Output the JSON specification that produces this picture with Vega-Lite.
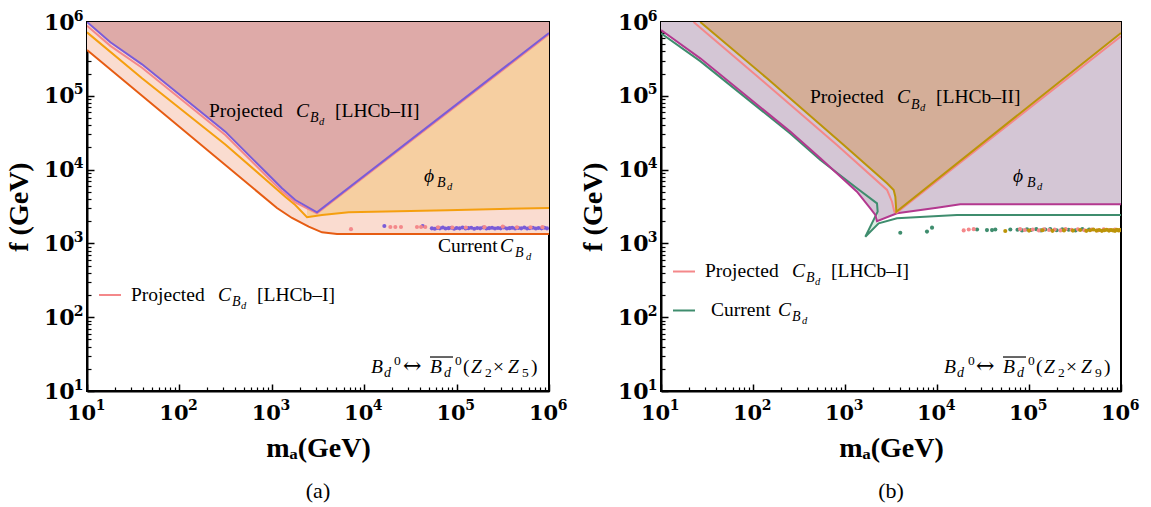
{
"$schema": "https://vega.github.io/schema/vega-lite/v6.json",
"background": "white",
"padding": {"left": 4, "top": 8, "right": 0, "bottom": 0},
"bounds": "flush",
"spacing": 112,
"config": {"view": {"stroke": "black", "strokeWidth": 2}, "axis": {"labelFlush": false, "labelOverlap": false, "grid": false}},
"datasets": {
"a_current": [{"m":10,"f":417000},{"m":1138,"f":3018},{"m":1654,"f":2209},{"m":2508,"f":1684},{"m":3494,"f":1414},{"m":5077,"f":1341},{"m":1000000,"f":1341}],
"a_orange": [{"m":10,"f":724000},{"m":39.4,"f":172600},{"m":314,"f":21900},{"m":1400,"f":4295},{"m":1795,"f":3311},{"m":2404,"f":2259},{"m":3491,"f":2427},{"m":6792,"f":2636},{"m":79400,"f":2818},{"m":1000000,"f":3020}],
"a_phi": [{"m":2404,"f":2259},{"m":3491,"f":2427},{"m":6792,"f":2636},{"m":79400,"f":2818},{"m":1000000,"f":3020}],
"a_pink": [{"m":10,"f":890000},{"m":17.9,"f":475000},{"m":39.4,"f":240000},{"m":314,"f":29500},{"m":925,"f":7650},{"m":1288,"f":5100},{"m":1795,"f":3600},{"m":3083,"f":2560},{"m":1000000,"f":680000}],
"a_purple": [{"m":10,"f":1000000},{"m":17.9,"f":531000},{"m":39.4,"f":267000},{"m":314,"f":32700},{"m":925,"f":8450},{"m":1288,"f":5585},{"m":1795,"f":3873},{"m":3083,"f":2636},{"m":1000000,"f":710000}],
"a_dots_purple": [{"m":16520,"f":1722},{"m":42950,"f":1722},{"m":54000,"f":1600},{"m":58000,"f":1580},{"m":62000,"f":1620},{"m":66000,"f":1600},{"m":71000,"f":1640},{"m":76000,"f":1590},{"m":82000,"f":1610},{"m":88000,"f":1630},{"m":94000,"f":1580},{"m":100000,"f":1620},{"m":108000,"f":1600},{"m":116000,"f":1640},{"m":125000,"f":1590},{"m":134000,"f":1610},{"m":144000,"f":1630},{"m":155000,"f":1580},{"m":167000,"f":1620},{"m":180000,"f":1600},{"m":194000,"f":1640},{"m":210000,"f":1590},{"m":225000,"f":1610},{"m":242000,"f":1630},{"m":260000,"f":1590},{"m":280000,"f":1620},{"m":300000,"f":1600},{"m":325000,"f":1640},{"m":350000,"f":1590},{"m":375000,"f":1610},{"m":400000,"f":1630},{"m":430000,"f":1590},{"m":465000,"f":1620},{"m":500000,"f":1600},{"m":540000,"f":1640},{"m":580000,"f":1590},{"m":620000,"f":1610},{"m":670000,"f":1630},{"m":720000,"f":1590},{"m":770000,"f":1620},{"m":830000,"f":1600},{"m":890000,"f":1630},{"m":950000,"f":1600}],
"a_dots_pink": [{"m":7194,"f":1560},{"m":19190,"f":1667},{"m":21730,"f":1667},{"m":25000,"f":1667},{"m":37240,"f":1667},{"m":41210,"f":1667},{"m":45810,"f":1667},{"m":63000,"f":1650},{"m":90000,"f":1640},{"m":125900,"f":1640},{"m":200000,"f":1660},{"m":316000,"f":1690},{"m":450000,"f":1650},{"m":631000,"f":1650},{"m":850000,"f":1660}],
"a_plain": [{"m":209.1,"f":51600,"t":"Projected"},{"m":4831,"f":51600,"t":"[LHCb–II]"},{"m":62900,"f":764.6,"t":"Current"},{"m":29.94,"f":165.8,"t":"Projected"},{"m":691.6,"f":165.8,"t":"[LHCb–I]"},{"m":117300,"f":17.81,"t":"("},{"m":247700,"f":17.81,"t":"×"},{"m":638600,"f":17.81,"t":")"}],
"a_arrow": [{"m":26300,"f":17.81,"t":"↔"}],
"a_ital": [{"m":1827,"f":51600,"t":"C"},{"m":294900,"f":764.6,"t":"C"},{"m":261.7,"f":165.8,"t":"C"},{"m":44390,"f":6792,"t":"ϕ"},{"m":11850,"f":17.81,"t":"B"},{"m":51530,"f":17.81,"t":"B"},{"m":143200,"f":17.81,"t":"Z"},{"m":360000,"f":17.81,"t":"Z"}],
"a_sub": [{"m":2591,"f":44160,"t":"B"},{"m":428500,"f":654.1,"t":"B"},{"m":371,"f":141.8,"t":"B"},{"m":61360,"f":5810,"t":"B"},{"m":16380,"f":15.72,"t":"d"},{"m":73050,"f":15.72,"t":"d"}],
"a_subsub": [{"m":3243,"f":40210,"t":"d"},{"m":563800,"f":595.7,"t":"d"},{"m":464.2,"f":129.1,"t":"d"},{"m":78730,"f":5292,"t":"d"}],
"a_small": [{"m":21010,"f":22.86,"t":"0"},{"m":96090,"f":22.86,"t":"0"},{"m":202900,"f":15.72,"t":"2"},{"m":510200,"f":15.72,"t":"5"}],
"a_legend": [{"m":13.49,"m2":23.33,"f":200}],
"a_over": [{"m":51530,"m2":91410,"f":28.88}],
"b_mint": [{"i":0,"m":10,"f":703000},{"i":1,"m":26.7,"f":295000},{"i":2,"m":254,"f":30900},{"i":3,"m":540,"f":13490},{"i":4,"m":1349,"f":5585},{"i":5,"m":2228,"f":3491},{"i":6,"m":2265,"f":2692},{"i":7,"m":2266,"f":1811},{"i":8,"m":2323,"f":1871},{"i":9,"m":3673,"f":2188},{"i":10,"m":16480,"f":2427},{"i":11,"m":1000000,"f":2427}],
"b_sliver": [{"m":1663,"lo":1233,"hi":1233},{"m":2265,"lo":1811,"hi":2692}],
"b_magenta": [{"m":10,"f":776000},{"m":26.7,"f":322000},{"m":254,"f":32700},{"m":540,"f":14220},{"m":1349,"f":5012},{"m":1884,"f":2985},{"m":2138,"f":2427},{"m":2228,"f":1995},{"m":3673,"f":2559},{"m":10000,"f":3048},{"m":17900,"f":3388},{"m":1000000,"f":3388}],
"b_gold": [{"m":26.7,"f":1000000},{"m":141.9,"f":172600},{"m":968,"f":21530},{"m":2864,"f":6516},{"m":3381,"f":5297},{"m":3524,"f":4295},{"m":3614,"f":2692},{"m":1000000,"f":710000}],
"b_pink": [{"m":22.6,"f":1000000},{"m":130.6,"f":155200},{"m":818,"f":21530},{"m":2864,"f":5297},{"m":3243,"f":3673},{"m":3436,"f":2692},{"m":3650,"f":2620},{"m":1000000,"f":640000}],
"b_green": [{"i":0,"m":10,"f":703000},{"i":1,"m":26.7,"f":295000},{"i":2,"m":254,"f":30900},{"i":3,"m":540,"f":13490},{"i":4,"m":1349,"f":5585},{"i":5,"m":2228,"f":3491},{"i":6,"m":2265,"f":2692},{"i":7,"m":1663,"f":1233},{"i":8,"m":2323,"f":1871},{"i":9,"m":3673,"f":2188},{"i":10,"m":16480,"f":2427},{"i":11,"m":1000000,"f":2427}],
"b_dots_green": [{"m":3990,"f":1396},{"m":7780,"f":1445},{"m":8830,"f":1633},{"m":27230,"f":1540},{"m":34910,"f":1514},{"m":39630,"f":1514},{"m":43050,"f":1540},{"m":62660,"f":1540},{"m":75000,"f":1530},{"m":84000,"f":1500},{"m":95000,"f":1550},{"m":105000,"f":1520},{"m":120000,"f":1560},{"m":135000,"f":1500},{"m":150000,"f":1540},{"m":170000,"f":1570},{"m":200000,"f":1510},{"m":230000,"f":1550},{"m":270000,"f":1530},{"m":320000,"f":1500},{"m":380000,"f":1560},{"m":450000,"f":1540}],
"b_dots_pink": [{"m":19500,"f":1500},{"m":22130,"f":1540},{"m":25060,"f":1560},{"m":80000,"f":1560},{"m":90000,"f":1520},{"m":110000,"f":1540},{"m":128000,"f":1500},{"m":145000,"f":1550},{"m":165000,"f":1520},{"m":190000,"f":1540},{"m":220000,"f":1500},{"m":250000,"f":1560},{"m":290000,"f":1530},{"m":340000,"f":1550},{"m":400000,"f":1510},{"m":480000,"f":1540},{"m":560000,"f":1500},{"m":650000,"f":1550},{"m":750000,"f":1520},{"m":860000,"f":1540},{"m":960000,"f":1510}],
"b_dots_gold": [{"m":55210,"f":1470},{"m":100000,"f":1490},{"m":140000,"f":1510},{"m":180000,"f":1480},{"m":240000,"f":1500},{"m":300000,"f":1490},{"m":360000,"f":1520},{"m":420000,"f":1480},{"m":460000,"f":1510},{"m":500000,"f":1540},{"m":540000,"f":1490},{"m":580000,"f":1520},{"m":620000,"f":1480},{"m":660000,"f":1510},{"m":700000,"f":1530},{"m":740000,"f":1490},{"m":780000,"f":1520},{"m":820000,"f":1500},{"m":860000,"f":1480},{"m":900000,"f":1530},{"m":940000,"f":1500},{"m":980000,"f":1520}],
"b_plain": [{"m":416.5,"f":78660,"t":"Projected"},{"m":9752,"f":78660,"t":"[LHCb–II]"},{"m":30.08,"f":350.5,"t":"Projected"},{"m":704.4,"f":350.5,"t":"[LHCb–I]"},{"m":34.95,"f":103.8,"t":"Current"},{"m":119100,"f":17.81,"t":"("},{"m":252500,"f":17.81,"t":"×"},{"m":653400,"f":17.81,"t":")"}],
"b_arrow": [{"m":26540,"f":17.81,"t":"↔"}],
"b_ital": [{"m":3674,"f":78660,"t":"C"},{"m":265.4,"f":350.5,"t":"C"},{"m":186.9,"f":103.8,"t":"C"},{"m":67000,"f":6792,"t":"ϕ"},{"m":11910,"f":17.81,"t":"B"},{"m":52160,"f":17.81,"t":"B"},{"m":145500,"f":17.81,"t":"Z"},{"m":367400,"f":17.81,"t":"Z"}],
"b_sub": [{"m":5216,"f":67280,"t":"B"},{"m":376.9,"f":299.9,"t":"B"},{"m":265.4,"f":88.82,"t":"B"},{"m":95120,"f":5810,"t":"B"},{"m":16500,"f":15.72,"t":"d"},{"m":74060,"f":15.72,"t":"d"}],
"b_subsub": [{"m":6534,"f":61280,"t":"d"},{"m":471.9,"f":273.1,"t":"d"},{"m":340.8,"f":80.89,"t":"d"},{"m":122200,"f":5292,"t":"d"}],
"b_small": [{"m":21730,"f":22.86,"t":"0"},{"m":97520,"f":22.86,"t":"0"},{"m":206700,"f":15.72,"t":"2"},{"m":521600,"f":15.72,"t":"9"}],
"b_leg_pink": [{"m":13.5,"m2":23.42,"f":416}],
"b_leg_green": [{"m":13.5,"m2":23.42,"f":123.3}],
"b_over": [{"m":52160,"m2":92770,"f":28.88}]
},
"hconcat": [
{
"width": 462, "height": 369,
"title": {"text": "(a)", "orient": "bottom", "anchor": "middle", "frame": "group", "font": "Liberation Serif", "fontSize": 22, "fontWeight": "normal", "color": "black", "offset": 19},
"resolve": {"axis": {"x": "independent", "y": "independent"}},
"layer": [
{"data": {"name": "a_current"}, "mark": {"type": "area", "color": "#FADCD0", "clip": true},
 "encoding": {
  "x": {"field": "m", "type": "quantitative", "scale": {"type": "log", "domain": [10, 1000000], "nice": false},
   "axis": {"orient": "bottom", "values": [10,100,1000,10000,100000,1000000], "labelExpr": "'10'", "labelFont": "DejaVu Serif", "labelFontWeight": "bold", "labelFontSize": 21, "labelColor": "black", "labelOffset": -6, "labelPadding": 18, "labelFlush": false, "labelOverlap": false, "labelBound": false, "tickSize": -7, "tickWidth": 1.5, "tickColor": "black", "domain": true, "domainColor": "black", "domainWidth": 2, "grid": false, "title": "mₐ(GeV)", "titleFont": "Liberation Serif", "titleFontSize": 28, "titleFontWeight": "bold", "titleColor": "black", "titlePadding": 11}},
  "y": {"field": "f", "type": "quantitative", "scale": {"type": "log", "domain": [10, 1000000], "nice": false},
   "axis": {"orient": "left", "values": [10,100,1000,10000,100000,1000000], "labelExpr": "'10'", "labelFont": "DejaVu Serif", "labelFontWeight": "bold", "labelFontSize": 22, "labelColor": "black", "labelPadding": 20, "labelFlush": false, "labelOverlap": false, "labelBound": false, "tickSize": -7, "tickWidth": 1.5, "tickColor": "black", "domain": true, "domainColor": "black", "domainWidth": 2, "grid": false, "title": "f (GeV)", "titleFont": "Liberation Serif", "titleFontSize": 28, "titleFontWeight": "bold", "titleColor": "black", "titlePadding": 10}},
  "y2": {"datum": 1000000}}},
{"data": {"name": "a_phi"}, "mark": {"type": "area", "color": "#F6CFA1", "clip": true},
 "encoding": {
  "x": {"field": "m", "type": "quantitative", "scale": {"type": "log", "domain": [10, 1000000], "nice": false},
   "axis": {"orient": "bottom", "values": [10,100,1000,10000,100000,1000000], "labelExpr": "''+round(log(datum.value)/LN10)", "labelFont": "DejaVu Serif", "labelFontWeight": "bold", "labelFontSize": 14, "labelColor": "black", "labelOffset": 13, "labelPadding": 7, "labelFlush": false, "labelOverlap": false, "labelBound": false, "ticks": false, "domain": false, "grid": false, "title": null}},
  "y": {"field": "f", "type": "quantitative", "scale": {"type": "log", "domain": [10, 1000000], "nice": false},
   "axis": {"orient": "left", "values": [10,100,1000,10000,100000,1000000], "labelExpr": "''+round(log(datum.value)/LN10)", "labelFont": "DejaVu Serif", "labelFontWeight": "bold", "labelFontSize": 14, "labelColor": "black", "labelPadding": 4, "labelOffset": -6, "labelFlush": false, "labelOverlap": false, "labelBound": false, "ticks": false, "domain": false, "grid": false, "title": null}},
  "y2": {"datum": 1000000}}},
{"data": {"name": "a_purple"}, "mark": {"type": "area", "color": "#DEAAA8", "clip": true},
 "encoding": {
  "x": {"field": "m", "type": "quantitative", "scale": {"type": "log", "domain": [10, 1000000], "nice": false},
   "axis": {"orient": "bottom", "values": [20,30,40,50,60,70,80,90,200,300,400,500,600,700,800,900,2000,3000,4000,5000,6000,7000,8000,9000,20000,30000,40000,50000,60000,70000,80000,90000,200000,300000,400000,500000,600000,700000,800000,900000], "labels": false, "tickSize": -4, "tickWidth": 1.2, "tickColor": "black", "domain": false, "grid": false, "title": null}},
  "y": {"field": "f", "type": "quantitative", "scale": {"type": "log", "domain": [10, 1000000], "nice": false},
   "axis": {"orient": "left", "values": [20,30,40,50,60,70,80,90,200,300,400,500,600,700,800,900,2000,3000,4000,5000,6000,7000,8000,9000,20000,30000,40000,50000,60000,70000,80000,90000,200000,300000,400000,500000,600000,700000,800000,900000], "labels": false, "tickSize": -4, "tickWidth": 1.2, "tickColor": "black", "domain": false, "grid": false, "title": null}},
  "y2": {"datum": 1000000}}},
{"data": {"name": "a_current"}, "mark": {"type": "line", "color": "#E65C12", "strokeWidth": 2, "clip": true},
 "encoding": {"x": {"field": "m", "type": "quantitative", "scale": {"type": "log", "domain": [10, 1000000], "nice": false}, "axis": null}, "y": {"field": "f", "type": "quantitative", "scale": {"type": "log", "domain": [10, 1000000], "nice": false}, "axis": null}}},
{"data": {"name": "a_orange"}, "mark": {"type": "line", "color": "#F59F0F", "strokeWidth": 2, "clip": true},
 "encoding": {"x": {"field": "m", "type": "quantitative", "scale": {"type": "log", "domain": [10, 1000000], "nice": false}, "axis": null}, "y": {"field": "f", "type": "quantitative", "scale": {"type": "log", "domain": [10, 1000000], "nice": false}, "axis": null}}},
{"data": {"name": "a_pink"}, "mark": {"type": "line", "color": "#F4888A", "strokeWidth": 2, "clip": true},
 "encoding": {"x": {"field": "m", "type": "quantitative", "scale": {"type": "log", "domain": [10, 1000000], "nice": false}, "axis": null}, "y": {"field": "f", "type": "quantitative", "scale": {"type": "log", "domain": [10, 1000000], "nice": false}, "axis": null}}},
{"data": {"name": "a_purple"}, "mark": {"type": "line", "color": "#7A5CD8", "strokeWidth": 2, "clip": true},
 "encoding": {"x": {"field": "m", "type": "quantitative", "scale": {"type": "log", "domain": [10, 1000000], "nice": false}, "axis": null}, "y": {"field": "f", "type": "quantitative", "scale": {"type": "log", "domain": [10, 1000000], "nice": false}, "axis": null}}},
{"data": {"name": "a_dots_purple"}, "mark": {"type": "point", "filled": true, "size": 17, "opacity": 1, "color": "#7A5CD8", "clip": true},
 "encoding": {"x": {"field": "m", "type": "quantitative", "scale": {"type": "log", "domain": [10, 1000000], "nice": false}, "axis": null}, "y": {"field": "f", "type": "quantitative", "scale": {"type": "log", "domain": [10, 1000000], "nice": false}, "axis": null}}},
{"data": {"name": "a_dots_pink"}, "mark": {"type": "point", "filled": true, "size": 17, "opacity": 1, "color": "#F4888A", "clip": true},
 "encoding": {"x": {"field": "m", "type": "quantitative", "scale": {"type": "log", "domain": [10, 1000000], "nice": false}, "axis": null}, "y": {"field": "f", "type": "quantitative", "scale": {"type": "log", "domain": [10, 1000000], "nice": false}, "axis": null}}},
{"data": {"name": "a_plain"}, "mark": {"type": "text", "align": "left", "baseline": "alphabetic", "font": "Liberation Serif", "fontSize": 19.5, "color": "black"},
 "encoding": {"x": {"field": "m", "type": "quantitative", "scale": {"type": "log", "domain": [10, 1000000], "nice": false}, "axis": null}, "y": {"field": "f", "type": "quantitative", "scale": {"type": "log", "domain": [10, 1000000], "nice": false}, "axis": null}, "text": {"field": "t"}}},
{"data": {"name": "a_arrow"}, "mark": {"type": "text", "align": "left", "baseline": "alphabetic", "font": "DejaVu Serif", "fontSize": 22, "color": "black"},
 "encoding": {"x": {"field": "m", "type": "quantitative", "scale": {"type": "log", "domain": [10, 1000000], "nice": false}, "axis": null}, "y": {"field": "f", "type": "quantitative", "scale": {"type": "log", "domain": [10, 1000000], "nice": false}, "axis": null}, "text": {"field": "t"}}},
{"data": {"name": "a_ital"}, "mark": {"type": "text", "align": "left", "baseline": "alphabetic", "font": "Liberation Serif", "fontStyle": "italic", "fontSize": 19.5, "color": "black"},
 "encoding": {"x": {"field": "m", "type": "quantitative", "scale": {"type": "log", "domain": [10, 1000000], "nice": false}, "axis": null}, "y": {"field": "f", "type": "quantitative", "scale": {"type": "log", "domain": [10, 1000000], "nice": false}, "axis": null}, "text": {"field": "t"}}},
{"data": {"name": "a_sub"}, "mark": {"type": "text", "align": "left", "baseline": "alphabetic", "font": "Liberation Serif", "fontStyle": "italic", "fontSize": 14, "color": "black"},
 "encoding": {"x": {"field": "m", "type": "quantitative", "scale": {"type": "log", "domain": [10, 1000000], "nice": false}, "axis": null}, "y": {"field": "f", "type": "quantitative", "scale": {"type": "log", "domain": [10, 1000000], "nice": false}, "axis": null}, "text": {"field": "t"}}},
{"data": {"name": "a_subsub"}, "mark": {"type": "text", "align": "left", "baseline": "alphabetic", "font": "Liberation Serif", "fontStyle": "italic", "fontSize": 10.5, "color": "black"},
 "encoding": {"x": {"field": "m", "type": "quantitative", "scale": {"type": "log", "domain": [10, 1000000], "nice": false}, "axis": null}, "y": {"field": "f", "type": "quantitative", "scale": {"type": "log", "domain": [10, 1000000], "nice": false}, "axis": null}, "text": {"field": "t"}}},
{"data": {"name": "a_small"}, "mark": {"type": "text", "align": "left", "baseline": "alphabetic", "font": "Liberation Serif", "fontSize": 13.5, "color": "black"},
 "encoding": {"x": {"field": "m", "type": "quantitative", "scale": {"type": "log", "domain": [10, 1000000], "nice": false}, "axis": null}, "y": {"field": "f", "type": "quantitative", "scale": {"type": "log", "domain": [10, 1000000], "nice": false}, "axis": null}, "text": {"field": "t"}}},
{"data": {"name": "a_legend"}, "mark": {"type": "rule", "color": "#F4888A", "strokeWidth": 2},
 "encoding": {"x": {"field": "m", "type": "quantitative", "scale": {"type": "log", "domain": [10, 1000000], "nice": false}, "axis": null}, "x2": {"field": "m2"}, "y": {"field": "f", "type": "quantitative", "scale": {"type": "log", "domain": [10, 1000000], "nice": false}, "axis": null}}},
{"data": {"name": "a_over"}, "mark": {"type": "rule", "color": "black", "strokeWidth": 1.2},
 "encoding": {"x": {"field": "m", "type": "quantitative", "scale": {"type": "log", "domain": [10, 1000000], "nice": false}, "axis": null}, "x2": {"field": "m2"}, "y": {"field": "f", "type": "quantitative", "scale": {"type": "log", "domain": [10, 1000000], "nice": false}, "axis": null}}}
]
},
{
"width": 460, "height": 369,
"title": {"text": "(b)", "orient": "bottom", "anchor": "middle", "frame": "group", "font": "Liberation Serif", "fontSize": 22, "fontWeight": "normal", "color": "black", "offset": 19},
"resolve": {"axis": {"x": "independent", "y": "independent"}},
"layer": [
{"data": {"name": "b_mint"}, "mark": {"type": "area", "color": "#DCECE4", "clip": true},
 "encoding": {
  "x": {"field": "m", "type": "quantitative", "scale": {"type": "log", "domain": [10, 1000000], "nice": false},
   "axis": {"orient": "bottom", "values": [10,100,1000,10000,100000,1000000], "labelExpr": "'10'", "labelFont": "DejaVu Serif", "labelFontWeight": "bold", "labelFontSize": 21, "labelColor": "black", "labelOffset": -6, "labelPadding": 18, "labelFlush": false, "labelOverlap": false, "labelBound": false, "tickSize": -7, "tickWidth": 1.5, "tickColor": "black", "domain": true, "domainColor": "black", "domainWidth": 2, "grid": false, "title": "mₐ(GeV)", "titleFont": "Liberation Serif", "titleFontSize": 28, "titleFontWeight": "bold", "titleColor": "black", "titlePadding": 11}},
  "y": {"field": "f", "type": "quantitative", "scale": {"type": "log", "domain": [10, 1000000], "nice": false},
   "axis": {"orient": "left", "values": [10,100,1000,10000,100000,1000000], "labelExpr": "'10'", "labelFont": "DejaVu Serif", "labelFontWeight": "bold", "labelFontSize": 22, "labelColor": "black", "labelPadding": 20, "labelFlush": false, "labelOverlap": false, "labelBound": false, "tickSize": -7, "tickWidth": 1.5, "tickColor": "black", "domain": true, "domainColor": "black", "domainWidth": 2, "grid": false, "title": "f (GeV)", "titleFont": "Liberation Serif", "titleFontSize": 28, "titleFontWeight": "bold", "titleColor": "black", "titlePadding": 10}},
  "y2": {"datum": 1000000},
  "order": {"field": "i", "type": "quantitative"}}},
{"data": {"name": "b_magenta"}, "mark": {"type": "area", "color": "#D4C6D5", "clip": true},
 "encoding": {
  "x": {"field": "m", "type": "quantitative", "scale": {"type": "log", "domain": [10, 1000000], "nice": false},
   "axis": {"orient": "bottom", "values": [10,100,1000,10000,100000,1000000], "labelExpr": "''+round(log(datum.value)/LN10)", "labelFont": "DejaVu Serif", "labelFontWeight": "bold", "labelFontSize": 14, "labelColor": "black", "labelOffset": 13, "labelPadding": 7, "labelFlush": false, "labelOverlap": false, "labelBound": false, "ticks": false, "domain": false, "grid": false, "title": null}},
  "y": {"field": "f", "type": "quantitative", "scale": {"type": "log", "domain": [10, 1000000], "nice": false},
   "axis": {"orient": "left", "values": [10,100,1000,10000,100000,1000000], "labelExpr": "''+round(log(datum.value)/LN10)", "labelFont": "DejaVu Serif", "labelFontWeight": "bold", "labelFontSize": 14, "labelColor": "black", "labelPadding": 4, "labelOffset": -6, "labelFlush": false, "labelOverlap": false, "labelBound": false, "ticks": false, "domain": false, "grid": false, "title": null}},
  "y2": {"datum": 1000000}}},
{"data": {"name": "b_gold"}, "mark": {"type": "area", "color": "#D4AE98", "clip": true},
 "encoding": {
  "x": {"field": "m", "type": "quantitative", "scale": {"type": "log", "domain": [10, 1000000], "nice": false},
   "axis": {"orient": "bottom", "values": [20,30,40,50,60,70,80,90,200,300,400,500,600,700,800,900,2000,3000,4000,5000,6000,7000,8000,9000,20000,30000,40000,50000,60000,70000,80000,90000,200000,300000,400000,500000,600000,700000,800000,900000], "labels": false, "tickSize": -4, "tickWidth": 1.2, "tickColor": "black", "domain": false, "grid": false, "title": null}},
  "y": {"field": "f", "type": "quantitative", "scale": {"type": "log", "domain": [10, 1000000], "nice": false},
   "axis": {"orient": "left", "values": [20,30,40,50,60,70,80,90,200,300,400,500,600,700,800,900,2000,3000,4000,5000,6000,7000,8000,9000,20000,30000,40000,50000,60000,70000,80000,90000,200000,300000,400000,500000,600000,700000,800000,900000], "labels": false, "tickSize": -4, "tickWidth": 1.2, "tickColor": "black", "domain": false, "grid": false, "title": null}},
  "y2": {"datum": 1000000}}},
{"data": {"name": "b_sliver"}, "mark": {"type": "area", "color": "#DCECE4", "clip": true},
 "encoding": {"x": {"field": "m", "type": "quantitative", "scale": {"type": "log", "domain": [10, 1000000], "nice": false}, "axis": null}, "y": {"field": "lo", "type": "quantitative", "scale": {"type": "log", "domain": [10, 1000000], "nice": false}, "axis": null}, "y2": {"field": "hi"}}},
{"data": {"name": "b_green"}, "mark": {"type": "line", "color": "#3F8D6E", "strokeWidth": 2, "clip": true},
 "encoding": {"x": {"field": "m", "type": "quantitative", "scale": {"type": "log", "domain": [10, 1000000], "nice": false}, "axis": null}, "y": {"field": "f", "type": "quantitative", "scale": {"type": "log", "domain": [10, 1000000], "nice": false}, "axis": null}, "order": {"field": "i", "type": "quantitative"}}},
{"data": {"name": "b_magenta"}, "mark": {"type": "line", "color": "#B3388F", "strokeWidth": 2, "clip": true},
 "encoding": {"x": {"field": "m", "type": "quantitative", "scale": {"type": "log", "domain": [10, 1000000], "nice": false}, "axis": null}, "y": {"field": "f", "type": "quantitative", "scale": {"type": "log", "domain": [10, 1000000], "nice": false}, "axis": null}}},
{"data": {"name": "b_pink"}, "mark": {"type": "line", "color": "#F4888A", "strokeWidth": 2, "clip": true},
 "encoding": {"x": {"field": "m", "type": "quantitative", "scale": {"type": "log", "domain": [10, 1000000], "nice": false}, "axis": null}, "y": {"field": "f", "type": "quantitative", "scale": {"type": "log", "domain": [10, 1000000], "nice": false}, "axis": null}}},
{"data": {"name": "b_gold"}, "mark": {"type": "line", "color": "#BC9408", "strokeWidth": 2, "clip": true},
 "encoding": {"x": {"field": "m", "type": "quantitative", "scale": {"type": "log", "domain": [10, 1000000], "nice": false}, "axis": null}, "y": {"field": "f", "type": "quantitative", "scale": {"type": "log", "domain": [10, 1000000], "nice": false}, "axis": null}}},
{"data": {"name": "b_dots_green"}, "mark": {"type": "point", "filled": true, "size": 17, "opacity": 1, "color": "#3F8D6E", "clip": true},
 "encoding": {"x": {"field": "m", "type": "quantitative", "scale": {"type": "log", "domain": [10, 1000000], "nice": false}, "axis": null}, "y": {"field": "f", "type": "quantitative", "scale": {"type": "log", "domain": [10, 1000000], "nice": false}, "axis": null}}},
{"data": {"name": "b_dots_pink"}, "mark": {"type": "point", "filled": true, "size": 17, "opacity": 1, "color": "#F4888A", "clip": true},
 "encoding": {"x": {"field": "m", "type": "quantitative", "scale": {"type": "log", "domain": [10, 1000000], "nice": false}, "axis": null}, "y": {"field": "f", "type": "quantitative", "scale": {"type": "log", "domain": [10, 1000000], "nice": false}, "axis": null}}},
{"data": {"name": "b_dots_gold"}, "mark": {"type": "point", "filled": true, "size": 17, "opacity": 1, "color": "#BC9408", "clip": true},
 "encoding": {"x": {"field": "m", "type": "quantitative", "scale": {"type": "log", "domain": [10, 1000000], "nice": false}, "axis": null}, "y": {"field": "f", "type": "quantitative", "scale": {"type": "log", "domain": [10, 1000000], "nice": false}, "axis": null}}},
{"data": {"name": "b_plain"}, "mark": {"type": "text", "align": "left", "baseline": "alphabetic", "font": "Liberation Serif", "fontSize": 19.5, "color": "black"},
 "encoding": {"x": {"field": "m", "type": "quantitative", "scale": {"type": "log", "domain": [10, 1000000], "nice": false}, "axis": null}, "y": {"field": "f", "type": "quantitative", "scale": {"type": "log", "domain": [10, 1000000], "nice": false}, "axis": null}, "text": {"field": "t"}}},
{"data": {"name": "b_arrow"}, "mark": {"type": "text", "align": "left", "baseline": "alphabetic", "font": "DejaVu Serif", "fontSize": 22, "color": "black"},
 "encoding": {"x": {"field": "m", "type": "quantitative", "scale": {"type": "log", "domain": [10, 1000000], "nice": false}, "axis": null}, "y": {"field": "f", "type": "quantitative", "scale": {"type": "log", "domain": [10, 1000000], "nice": false}, "axis": null}, "text": {"field": "t"}}},
{"data": {"name": "b_ital"}, "mark": {"type": "text", "align": "left", "baseline": "alphabetic", "font": "Liberation Serif", "fontStyle": "italic", "fontSize": 19.5, "color": "black"},
 "encoding": {"x": {"field": "m", "type": "quantitative", "scale": {"type": "log", "domain": [10, 1000000], "nice": false}, "axis": null}, "y": {"field": "f", "type": "quantitative", "scale": {"type": "log", "domain": [10, 1000000], "nice": false}, "axis": null}, "text": {"field": "t"}}},
{"data": {"name": "b_sub"}, "mark": {"type": "text", "align": "left", "baseline": "alphabetic", "font": "Liberation Serif", "fontStyle": "italic", "fontSize": 14, "color": "black"},
 "encoding": {"x": {"field": "m", "type": "quantitative", "scale": {"type": "log", "domain": [10, 1000000], "nice": false}, "axis": null}, "y": {"field": "f", "type": "quantitative", "scale": {"type": "log", "domain": [10, 1000000], "nice": false}, "axis": null}, "text": {"field": "t"}}},
{"data": {"name": "b_subsub"}, "mark": {"type": "text", "align": "left", "baseline": "alphabetic", "font": "Liberation Serif", "fontStyle": "italic", "fontSize": 10.5, "color": "black"},
 "encoding": {"x": {"field": "m", "type": "quantitative", "scale": {"type": "log", "domain": [10, 1000000], "nice": false}, "axis": null}, "y": {"field": "f", "type": "quantitative", "scale": {"type": "log", "domain": [10, 1000000], "nice": false}, "axis": null}, "text": {"field": "t"}}},
{"data": {"name": "b_small"}, "mark": {"type": "text", "align": "left", "baseline": "alphabetic", "font": "Liberation Serif", "fontSize": 13.5, "color": "black"},
 "encoding": {"x": {"field": "m", "type": "quantitative", "scale": {"type": "log", "domain": [10, 1000000], "nice": false}, "axis": null}, "y": {"field": "f", "type": "quantitative", "scale": {"type": "log", "domain": [10, 1000000], "nice": false}, "axis": null}, "text": {"field": "t"}}},
{"data": {"name": "b_leg_pink"}, "mark": {"type": "rule", "color": "#F4888A", "strokeWidth": 2},
 "encoding": {"x": {"field": "m", "type": "quantitative", "scale": {"type": "log", "domain": [10, 1000000], "nice": false}, "axis": null}, "x2": {"field": "m2"}, "y": {"field": "f", "type": "quantitative", "scale": {"type": "log", "domain": [10, 1000000], "nice": false}, "axis": null}}},
{"data": {"name": "b_leg_green"}, "mark": {"type": "rule", "color": "#3F8D6E", "strokeWidth": 2},
 "encoding": {"x": {"field": "m", "type": "quantitative", "scale": {"type": "log", "domain": [10, 1000000], "nice": false}, "axis": null}, "x2": {"field": "m2"}, "y": {"field": "f", "type": "quantitative", "scale": {"type": "log", "domain": [10, 1000000], "nice": false}, "axis": null}}},
{"data": {"name": "b_over"}, "mark": {"type": "rule", "color": "black", "strokeWidth": 1.2},
 "encoding": {"x": {"field": "m", "type": "quantitative", "scale": {"type": "log", "domain": [10, 1000000], "nice": false}, "axis": null}, "x2": {"field": "m2"}, "y": {"field": "f", "type": "quantitative", "scale": {"type": "log", "domain": [10, 1000000], "nice": false}, "axis": null}}}
]
}
]
}
